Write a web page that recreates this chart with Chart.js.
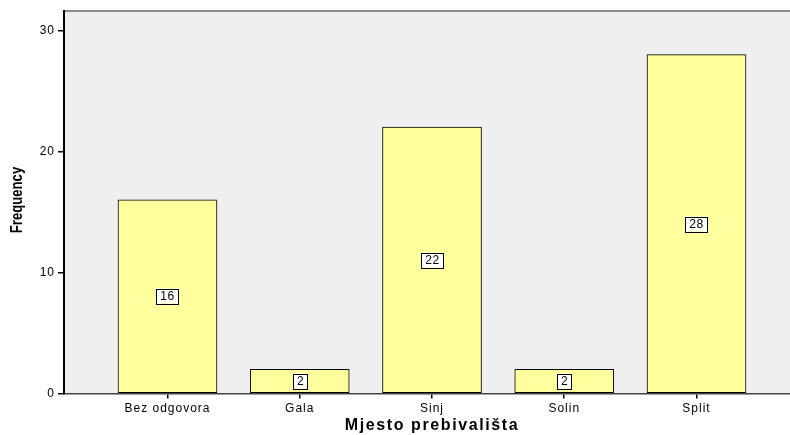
<!DOCTYPE html>
<html>
<head>
<meta charset="utf-8">
<script src="https://cdn.jsdelivr.net/npm/chart.js@4/dist/chart.umd.min.js"></script>
<style>
html,body{margin:0;padding:0;background:#fff;}
#wrap{width:790px;height:435px;}
</style>
</head>
<body>
<div id="wrap"><canvas id="c" width="790" height="435"></canvas></div>
<script>
const categories = ["Bez odgovora", "Gala", "Sinj", "Solin", "Split"];
const frequencies = [16, 2, 22, 2, 28];
const yTicks = [0, 10, 20, 30];
const xTitle = "Mjesto prebivališta";
const yTitle = "Frequency";

const points = categories.map((c, i) => ({x: i, y: frequencies[i]}));
const FONT = '"Liberation Sans", Arial, sans-serif';

const bgPlugin = {
  id: 'bg',
  beforeDraw(chart) {
    const {ctx, chartArea: a} = chart;
    ctx.letterSpacing = '1px';
    ctx.save();
    ctx.fillStyle = '#efefef';
    ctx.fillRect(a.left, a.top, a.right - a.left, a.bottom - a.top);
    ctx.strokeStyle = '#8a8a8a';
    ctx.lineWidth = 2;
    ctx.beginPath();
    ctx.moveTo(a.left, a.top);
    ctx.lineTo(a.right, a.top);
    ctx.stroke();
    ctx.restore();
  }
};

const labelPlugin = {
  id: 'boxLabels',
  afterDatasetsDraw(chart) {
    const {ctx} = chart;
    const meta = chart.getDatasetMeta(0);
    ctx.save();
    ctx.letterSpacing = '0.5px';
    ctx.font = '12px ' + FONT;
    ctx.textAlign = 'center';
    ctx.textBaseline = 'middle';
    meta.data.forEach((bar, i) => {
      const txt = String(frequencies[i]);
      const cx = Math.round(bar.x);
      const cy = Math.round((bar.y + bar.base) / 2);
      const w = txt.length === 1 ? 14 : 22;
      const h = 15;
      ctx.fillStyle = '#ffffff';
      ctx.fillRect(cx - w / 2, cy - h / 2, w, h);
      ctx.strokeStyle = '#000';
      ctx.lineWidth = 1;
      ctx.strokeRect(Math.round(cx - w / 2) + 0.5, Math.round(cy - h / 2) + 0.5, w, h);
      ctx.fillStyle = '#000';
      ctx.fillText(txt, cx + 0.5, cy + 1);
    });
    ctx.restore();
  }
};

const titlePlugin = {
  id: 'titles',
  afterDraw(chart) {
    const {ctx} = chart;
    ctx.save();
    ctx.fillStyle = '#000';
    ctx.textAlign = 'center';
    ctx.textBaseline = 'middle';
    ctx.letterSpacing = '1.6px';
    ctx.font = 'bold 16px ' + FONT;
    ctx.fillText(xTitle, 432, 426);
    ctx.restore();

    ctx.save();
    ctx.fillStyle = '#000';
    ctx.textAlign = 'center';
    ctx.textBaseline = 'middle';
    ctx.letterSpacing = '0px';
    ctx.font = 'bold 16px ' + FONT;
    ctx.translate(18, 200);
    ctx.rotate(-Math.PI / 2);
    ctx.scale(0.82, 1);
    ctx.fillText(yTitle, 0, 0);
    ctx.restore();
  }
};

new Chart(document.getElementById('c'), {
  type: 'bar',
  data: {
    datasets: [{
      data: points,
      backgroundColor: '#ffff9e',
      borderColor: '#000000',
      borderWidth: 1,
      barThickness: 99,
      borderSkipped: false
    }]
  },
  options: {
    responsive: false,
    animation: false,
    layout: {padding: {top: 11, right: 0, left: 0, bottom: 0}},
    plugins: {legend: {display: false}, tooltip: {enabled: false}},
    scales: {
      x: {
        type: 'linear',
        offset: false,
        min: -0.7826,
        max: 4.707,
        afterBuildTicks(scale) { scale.ticks = categories.map((c, i) => ({value: i})); },
        afterFit(scale) { scale.height = 41.5; },
        ticks: {
          callback: (v) => categories[v] ?? '',
          color: '#000',
          font: {family: FONT, size: 12},
          padding: 3,
          maxRotation: 0,
          autoSkip: false
        },
        grid: {offset: false, drawOnChartArea: false, drawTicks: true, tickLength: 5, color: '#000', lineWidth: 1.5},
        border: {display: true, color: '#444', width: 1.5},
        title: {display: false}
      },
      y: {
        min: 0,
        max: 31.6,
        afterBuildTicks(scale) { scale.ticks = yTicks.map(v => ({value: v})); },
        afterFit(scale) { scale.width = 64; },
        ticks: {
          color: '#000',
          font: {family: FONT, size: 12},
          padding: 3
        },
        grid: {drawOnChartArea: false, drawTicks: true, tickLength: 6, color: '#000', lineWidth: 1.5},
        border: {display: true, color: '#000', width: 2},
        title: {display: false}
      }
    }
  },
  plugins: [bgPlugin, labelPlugin, titlePlugin]
});
</script>
</body>
</html>
